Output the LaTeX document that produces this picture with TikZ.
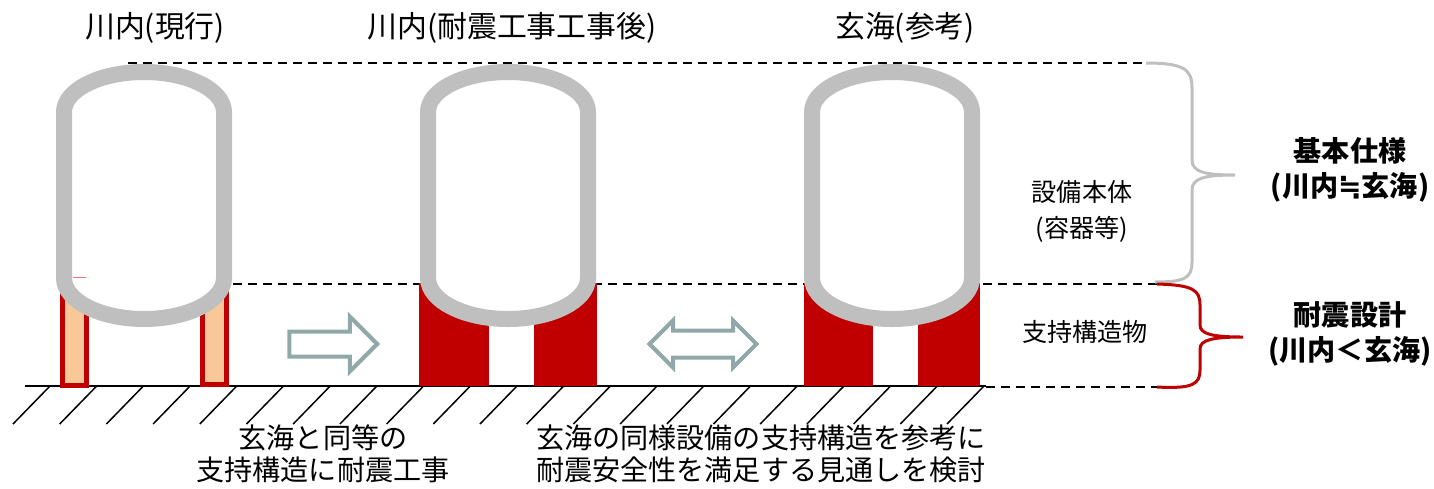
\documentclass[tikz,border=0pt]{standalone}
\usepackage{fontspec}
\setmainfont{Noto Sans CJK JP}
\newfontfamily\symfont{DejaVu Sans}
\usepackage{tikz}
\usetikzlibrary{shapes.arrows}
\definecolor{vesselgray}{RGB}{191,191,191}
\definecolor{supportred}{RGB}{192,0,0}
\definecolor{legpeach}{RGB}{250,200,152}
\definecolor{arrowteal}{RGB}{145,168,168}

\begin{document}
\begin{tikzpicture}[x=0.2mm, y=-0.2mm,
    vessel/.style={draw=vesselgray, line width=3.2mm, fill=white},
    leg/.style={draw=supportred, line width=1mm, fill=legpeach},
    support/.style={fill=supportred},
    levelline/.style={dash pattern=on 1.8mm off 1.2mm, line width=0.4mm},
    hollowarrow/.style={draw=arrowteal, line width=0.8mm, fill=white, inner xsep=0pt},
    title/.style={font=\fontsize{17}{20}\selectfont},
    note/.style={font=\fontsize{16}{18.2}\selectfont, align=center},
    part/.style={font=\fontsize{14.3}{20.4}\selectfont, align=center},
    summary/.style={font=\fontsize{16}{19.9}\selectfont\bfseries, align=center}]

    \useasboundingbox (0,0) rectangle (1434,488);

    % Level lines
    \coordinate (topL) at (128,63);
    \coordinate (topR) at (1146,63);
    \coordinate (midL) at (233,284);
    \coordinate (midR) at (1157,284);
    \coordinate (botL) at (986,387);
    \coordinate (botR) at (1157,387);
    \draw[levelline] (topL) -- (topR);
    \draw[levelline] (midL) -- (midR);
    \draw[levelline] (botL) -- (botR);

    % Ground
    \coordinate (groundL) at (25,386);
    \coordinate (groundR) at (986,386);
    \draw[line width=0.4mm] (groundL) -- (groundR);
    \foreach \i in {0,...,20}
        \draw[line width=0.3mm] ({50+46.7*\i},386) -- ++(-37,38);

    % Supports
    \draw[leg] (62,288) rectangle (86,385);
    \draw[leg] (202,290) rectangle (226,384);
    \fill[support] (419,283) rectangle (489,386);
    \fill[support] (534,283) rectangle (597,386);
    \fill[support] (804,283) rectangle (873,386);
    \fill[support] (918,283) rectangle (980,386);

    % Vessels
    \foreach \c in {144,508,892}
        \draw[vessel] ({\c-80},112) arc[start angle=180, end angle=360, x radius=80, y radius=40]
            -- ({\c+80},278) arc[start angle=0, end angle=180, x radius=80, y radius=41] -- cycle;
    \draw[red!55, line width=0.2mm] (73,277) -- (86,277);

    % Arrows
    \node[hollowarrow, single arrow, single arrow head extend=3mm, inner ysep=2.1mm,
          minimum height=17.6mm] (toafter) at (327,344) {};
    \node[hollowarrow, double arrow, double arrow head extend=2mm, inner ysep=2.3mm,
          minimum height=21.4mm] (compare) at (703,344) {};

    % Braces
    \coordinate (spectip) at (1235,175);
    \coordinate (seismictip) at (1243,337);
    \draw[vesselgray, line width=0.6mm] (topR) .. controls (1185,63) and (1192,70) .. (1192,88)
        -- (1192,160) .. controls (1192,172) and (1205,175) .. (spectip)
        .. controls (1205,175) and (1192,178) .. (1192,190)
        -- (1192,262) .. controls (1192,278) and (1185,282) .. (1155,282);
    \draw[supportred, line width=0.6mm] (midR) .. controls (1193,285) and (1200,290) .. (1200,305)
        -- (1200,325) .. controls (1200,334) and (1212,337) .. (seismictip)
        .. controls (1212,337) and (1200,340) .. (1200,349)
        -- (1200,370) .. controls (1200,384) and (1193,389) .. (botR);

    % Titles
    \node[title] (now) at (155,28) {川内(現行)};
    \node[title] (after) at (512,28) {川内(耐震工事工事後)};
    \node[title] (ref) at (905,28) {玄海(参考)};

    % Notes
    \node[note] (work) at (323,454) {玄海と同等の\\支持構造に耐震工事};
    \node[note] (check) at (761,454) {玄海の同様設備の支持構造を参考に\\耐震安全性を満足する見通しを検討};

    % Parts
    \node[part] (body) at (1082,211) {設備本体\\(容器等)};
    \node[part] (frame) at (1085,332) {支持構造物};

    % Summary
    \node[summary] (spec) at (1350,170) {基本仕様\\(川内{\symfont ≒}玄海)};
    \node[summary] (seismic) at (1350,334) {耐震設計\\(川内＜玄海)};
\end{tikzpicture}
\end{document}
